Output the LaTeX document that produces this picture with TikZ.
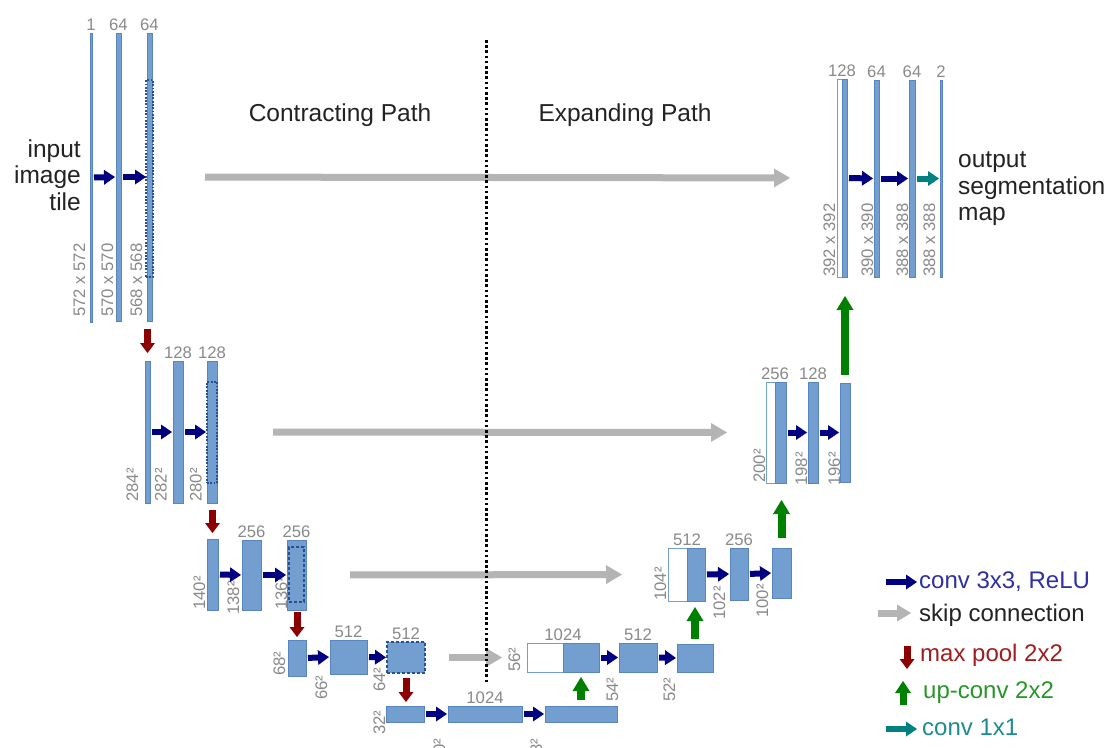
\documentclass[tikz,border=0pt]{standalone}
\usepackage{fontspec}
\setmainfont{Liberation Sans}
\usetikzlibrary{arrows.meta}
\definecolor{barfill}{RGB}{114,159,207}
\definecolor{barline}{RGB}{88,132,192}
\definecolor{cropline}{RGB}{38,82,148}
\definecolor{lblgray}{RGB}{138,138,138}
\definecolor{convc}{RGB}{0,0,128}
\definecolor{skipc}{RGB}{180,180,180}
\definecolor{poolc}{RGB}{139,0,0}
\definecolor{upc}{RGB}{0,128,0}
\definecolor{onec}{RGB}{0,128,128}
\definecolor{convtext}{RGB}{48,48,160}
\definecolor{skiptext}{RGB}{35,35,35}
\definecolor{pooltext}{RGB}{160,30,30}
\definecolor{uptext}{RGB}{40,150,40}
\definecolor{onetext}{RGB}{30,140,140}
\newcommand{\blk}[6]{\node[#6, anchor=north west, minimum width={(#4-#2)*1pt}, minimum height={(#5-#3)*1pt}] (#1) at (#2,#3) {};}
\begin{document}
\begin{tikzpicture}[x=1pt,y=-1pt,
  bar/.style={fill=barfill, draw=barline, line width=0.7pt, inner sep=0pt, outer sep=0pt},
  wbar/.style={fill=white, draw=barfill, line width=0.9pt, inner sep=0pt, outer sep=0pt},
  crop/.style={draw=cropline, line width=2.2pt, dash pattern=on 1.8pt off 1.5pt, inner sep=0pt, outer sep=0pt},
  cropd/.style={draw=cropline, line width=1.8pt, dash pattern=on 3pt off 2pt, inner sep=0pt, outer sep=0pt},
  dbar/.style={fill=barfill, draw=cropline, line width=1.8pt, dash pattern=on 3pt off 2pt, inner sep=0pt, outer sep=0pt},
  chan/.style={text=lblgray, font=\fontsize{16.7}{18}\selectfont, anchor=south, inner sep=2pt},
  size/.style={text=lblgray, font=\fontsize{16.7}{18}\selectfont, rotate=90, anchor=base west, inner sep=0pt},
  head/.style={text=skiptext, font=\fontsize{24.5}{27}\selectfont, inner sep=0pt},
  big/.style={text=skiptext, font=\fontsize{24.5}{26.5}\selectfont, inner sep=0pt},
  leg/.style={font=\fontsize{24}{26}\selectfont, anchor=base west, inner sep=0pt},
  conv/.style={draw=convc, line width=6pt, -{Triangle[length=11pt,width=15pt,line width=0pt]}, shorten <=2pt, shorten >=1pt},
  one/.style={draw=onec, line width=6pt, -{Triangle[length=11pt,width=15pt,line width=0pt]}, shorten <=2pt, shorten >=1pt},
  skip/.style={draw=skipc, line width=7pt, -{Triangle[length=16pt,width=19pt,line width=0pt]}},
  pool/.style={draw=poolc, line width=7pt, -{Triangle[length=10pt,width=15pt,line width=0pt]}},
  up/.style={draw=upc, line width=8pt, -{Triangle[length=14pt,width=17pt,line width=0pt]}},
  divider/.style={draw=black, line width=3pt, dash pattern=on 2.6pt off 2.6pt}
]
\fill[white] (0,0) rectangle (1113,747);
\useasboundingbox (0,0) rectangle (1113,747);

% headings
\node[head] (hc) at (340,115) {Contracting Path};
\node[head] (he) at (625,115) {Expanding Path};

\node[big, align=right, anchor=east] (inp) at (81,175) {input\\image\\tile};
\node[big, align=left, anchor=west] (outp) at (958,189) {output\\segmentation\\map};

% ---- level 1 left
\blk{a1}{90}{33}{92}{322}{bar}
\blk{a2}{116}{33}{121}{321}{bar}
\blk{a3}{147}{33}{152}{321}{bar}
\blk{a3c}{146}{80}{153}{277}{crop}
% ---- level 2 left
\blk{b1}{145}{361}{150}{503}{bar}
\blk{b2}{173}{361}{183}{503}{bar}
\blk{b3}{207}{361}{217}{503}{bar}
\blk{b3c}{207}{382}{217}{483}{crop}
% ---- level 3 left
\blk{c1}{207}{539}{218}{610}{bar}
\blk{c2}{242}{540}{261}{610}{bar}
\blk{c3}{287}{540}{306}{610}{bar}
\blk{c3c}{289}{547}{304}{602}{cropd}
% ---- level 4 left
\blk{d1}{288}{640}{306}{676}{bar}
\blk{d2}{330}{640}{367}{674}{bar}
\blk{d3}{387}{642}{425}{673}{dbar}
% ---- bottom
\blk{e1}{386}{706}{424}{722}{bar}
\blk{e2}{448}{706}{522}{722}{bar}
\blk{e3}{545}{706}{617}{722}{bar}
% ---- level 4 right
\blk{f1w}{527}{643}{563}{672}{wbar}
\blk{f1}{563}{643}{599}{672}{bar}
\blk{f2}{619}{643}{657}{672}{bar}
\blk{f3}{677}{644}{713}{672}{bar}
% ---- level 3 right
\blk{g1w}{668}{548}{687}{601}{wbar}
\blk{g1}{687}{548}{705}{601}{bar}
\blk{g2}{730}{548}{748}{600}{bar}
\blk{g3}{772}{548}{791}{598}{bar}
% ---- level 2 right
\blk{h1w}{766}{382}{775}{483}{wbar}
\blk{h1}{775}{382}{786}{483}{bar}
\blk{h2}{808}{382}{818}{483}{bar}
\blk{h3}{840}{383}{850}{482}{bar}
% ---- level 1 right
\blk{i1w}{837}{79}{842}{277}{wbar}
\blk{i1}{842}{79}{847}{277}{bar}
\blk{i2}{874}{80}{879}{277}{bar}
\blk{i3}{909}{80}{915}{277}{bar}
\blk{i4}{940}{80}{942}{277}{bar}

% channel labels
\node[chan] (la1) at (a1.north) {1};
\node[chan] (la2) at (a2.north) {64};
\node[chan] (la3) at (a3.north) {64};
\node[chan] (lb2) at (b2.north) {128};
\node[chan] (lb3) at (b3.north) {128};
\node[chan] (lc2) at (c2.north) {256};
\node[chan] (lc3) at (c3.north) {256};
\node[chan] (ld2) at (d2.north) {512};
\node[chan] (ld3) at (d3.north) {512};
\node[chan] (le2) at (e2.north) {1024};
\node[chan] (lf1) at (f1w.north east) {1024};
\node[chan] (lf2) at (f2.north) {512};
\node[chan] (lg1) at (g1w.north east) {512};
\node[chan] (lg2) at (g2.north) {256};
\node[chan] (lh1) at (h1w.north east) {256};
\node[chan] (lh2) at (h2.north) {128};
\node[chan] (li1) at (i1w.north east) {128};
\node[chan] (li2) at (i2.north) {64};
\node[chan] (li3) at (i3.north) {64};
\node[chan] (li4) at (i4.north) {2};

% size labels
\node[size] (sa1) at (85,317) {572 x 572};
\node[size] (sa2) at (113,317) {570 x 570};
\node[size] (sa3) at (142,317) {568 x 568};
\node[size] (sb1) at (138,502) {284²};
\node[size] (sb2) at (166.5,502) {282²};
\node[size] (sb3) at (201.5,502) {280²};
\node[size] (sc1) at (205,610) {140²};
\node[size] (sc2) at (239,615) {138²};
\node[size] (sc3) at (287,610) {136²};
\node[size] (sd1) at (285,676) {68²};
\node[size] (sd2) at (327,700) {66²};
\node[size] (sd3) at (385,692) {64²};
\node[size] (se1) at (385,735) {32²};
\node[size] (se2) at (445,763) {30²};
\node[size] (se3) at (542,763) {28²};
\node[size] (sf1) at (520,672) {56²};
\node[size] (sf2) at (618,702) {54²};
\node[size] (sf3) at (675,702) {52²};
\node[size] (sg1) at (666,601) {104²};
\node[size] (sg2) at (725,620) {102²};
\node[size] (sg3) at (768,618) {100²};
\node[size] (sh1) at (765,483) {200²};
\node[size] (sh2) at (807,486) {198²};
\node[size] (sh3) at (840,486) {196²};
\node[size] (si1) at (835,277) {392 x 392};
\node[size] (si2) at (873,277) {390 x 390};
\node[size] (si3) at (908,277) {388 x 388};
\node[size] (si4) at (935,277) {388 x 388};

% skip connections
\draw[skip, shorten <=53pt, shorten >=47pt] (a3.east) -- (i1w.west);
\draw[skip, shorten <=56pt, shorten >=39pt] (b3.east) -- (h1w.west);
\draw[skip, shorten <=44pt, shorten >=46pt] (c3.east) -- (g1w.west);
\draw[skip, shorten <=24pt, shorten >=25pt] (d3.east) -- (f1w.west);

% divider
\coordinate (dtop) at (486,40);
\coordinate (dbot) at (486,682);
\draw[divider] (dtop) -- (dbot);

% conv arrows
\draw[conv] (a1.east) -- (a2.west);
\draw[conv] (a2.east) -- (a3.west);
\draw[conv] (b1.east) -- (b2.west);
\draw[conv] (b2.east) -- (b3.west);
\draw[conv] (c1.east) -- (c2.west);
\draw[conv] (c2.east) -- (c3.west);
\draw[conv] (d1.east) -- (d2.west);
\draw[conv] (d2.east) -- (d3.west);
\draw[conv] (e1.east) -- (e2.west);
\draw[conv] (e2.east) -- (e3.west);
\draw[conv] (f1.east) -- (f2.west);
\draw[conv] (f2.east) -- (f3.west);
\draw[conv] (g1.east) -- (g2.west);
\draw[conv] (g2.east) -- (g3.west);
\draw[conv] (h1.east) -- (h2.west);
\draw[conv] (h2.east) -- (h3.west);
\draw[conv] (i1.east) -- (i2.west);
\draw[conv] (i2.east) -- (i3.west);
\draw[one] (i3.east) -- (i4.west);

% max pool
\draw[pool, shorten <=8pt, shorten >=8pt] (b1.north |- a3.south) -- (b1.north);
\draw[pool, shorten <=7pt, shorten >=6pt] (c1.north |- b3.south) -- (c1.north);
\draw[pool, shorten <=2pt, shorten >=3pt] (d1.north |- c3.south) -- (d1.north);
\draw[pool, shorten <=5pt, shorten >=4pt] (d3.south) -- (d3.south |- e1.north);

% up-conv
\draw[up, shorten <=6pt, shorten >=5pt] (e3.north) -- (e3.north |- f1.south);
\draw[up, shorten <=5pt, shorten >=6pt] (f3.north) -- (f3.north |- g1.south);
\draw[up, shorten <=10pt, shorten >=17pt] (g3.north) -- (g3.north |- h1.south);
\draw[up, shorten <=8pt, shorten >=19pt] (h3.north) -- (h3.north |- i1.south);

% legend
\coordinate (lc1) at (886,582); \coordinate (lc2) at (917,582);
\draw[draw=convc, line width=6pt, -{Triangle[length=11pt,width=15pt,line width=0pt]}] (lc1) -- (lc2);
\node[leg, text=convtext] (tconv) at (919,588) {conv 3x3, ReLU};
\coordinate (ls1) at (878,613); \coordinate (ls2) at (911,613);
\draw[draw=skipc, line width=7pt, -{Triangle[length=14pt,width=17pt,line width=0pt]}] (ls1) -- (ls2);
\node[leg, text=skiptext] (tskip) at (919,621) {skip connection};
\coordinate (lp1) at (907,646); \coordinate (lp2) at (907,669);
\draw[draw=poolc, line width=7pt, -{Triangle[length=10pt,width=15pt,line width=0pt]}] (lp1) -- (lp2);
\node[leg, text=pooltext] (tpool) at (920,661) {max pool 2x2};
\coordinate (lu1) at (903,705); \coordinate (lu2) at (903,681);
\draw[draw=upc, line width=7pt, -{Triangle[length=12pt,width=16pt,line width=0pt]}] (lu1) -- (lu2);
\node[leg, text=uptext] (tup) at (923,698) {up-conv 2x2};
\coordinate (lo1) at (886,729); \coordinate (lo2) at (917,729);
\draw[draw=onec, line width=6pt, -{Triangle[length=11pt,width=15pt,line width=0pt]}] (lo1) -- (lo2);
\node[leg, text=onetext] (tone) at (922,735) {conv 1x1};
\end{tikzpicture}
\end{document}
